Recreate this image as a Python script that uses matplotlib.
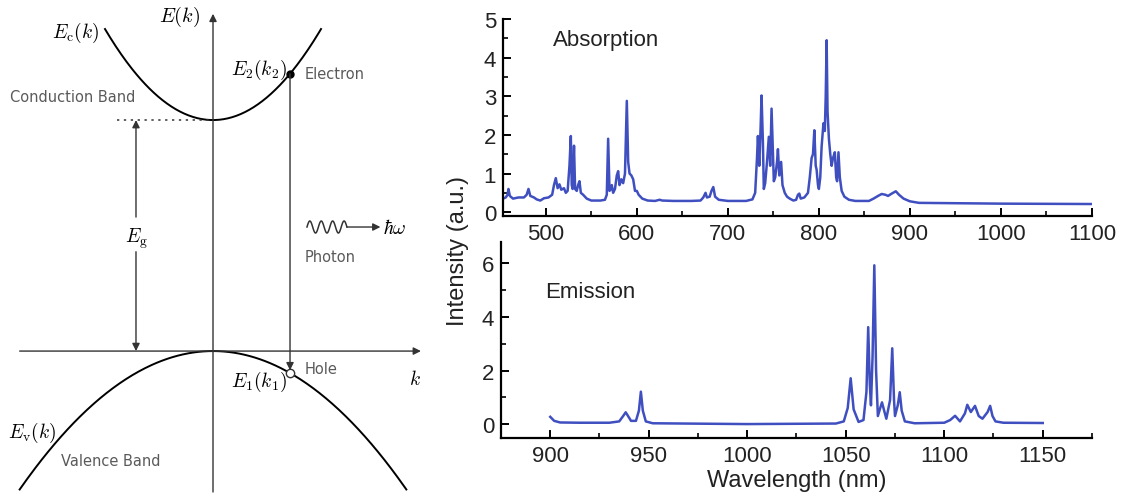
import numpy as np
import matplotlib.pyplot as plt
from matplotlib.ticker import MultipleLocator

plt.rcParams['font.family'] = ['Liberation Sans', 'DejaVu Sans']
plt.rcParams['mathtext.fontset'] = 'cm'

# Absorption spectrum (nm, a.u.)
abs_nm = [453, 456, 458, 459, 460.5, 464, 470, 476, 479, 481, 483, 487, 490, 494, 498,
          503, 507, 509, 511, 513, 515, 517, 520, 522, 524, 526, 527.5, 528.5, 529.5,
          531, 532.2, 534, 535.5, 537, 538.5, 541, 545, 550, 560, 565, 567, 568.5, 570,
          571.5, 572.5, 574, 576, 578, 579.5, 581, 583, 585, 587, 588, 589, 590.5, 592,
          594, 596, 598, 600, 602, 606, 612, 620, 625, 628, 640, 660, 670, 673, 675.5,
          677, 680, 682, 684, 686, 690, 700, 720, 727, 730, 732, 733, 734.5, 736, 737,
          738.5, 739.5, 741, 743, 745, 746.5, 748, 749.5, 750.5, 752, 754, 755, 756.5,
          758.5, 760, 762.5, 765, 768, 772, 775, 777, 778.5, 780, 784, 788, 790, 792,
          793.5, 795, 796.5, 797.5, 799, 800, 801.5, 803, 805, 806.5, 807.5, 808.5,
          809.5, 811, 812.5, 814, 815.5, 817.5, 819, 820, 821.5, 823, 825, 828, 833,
          840, 855, 860, 865, 869, 873, 876, 880, 884.5, 888, 893, 900, 910, 950, 1000,
          1100]
abs_val = [0.35, 0.38, 0.45, 0.60, 0.42, 0.35, 0.38, 0.38, 0.45, 0.60, 0.42, 0.38, 0.33,
           0.30, 0.36, 0.38, 0.45, 0.70, 0.88, 0.62, 0.72, 0.58, 0.62, 0.50, 0.55, 1.20,
           1.97, 0.70, 0.60, 1.72, 0.60, 0.55, 0.70, 0.80, 0.50, 0.45, 0.35, 0.30, 0.30,
           0.32, 0.45, 1.90, 0.55, 0.60, 0.70, 0.50, 0.60, 0.95, 1.06, 0.70, 0.85, 0.75,
           1.00, 2.00, 2.88, 1.30, 1.00, 0.95, 0.85, 0.55, 0.55, 0.45, 0.35, 0.30, 0.29,
           0.32, 0.30, 0.29, 0.29, 0.30, 0.38, 0.50, 0.38, 0.40, 0.55, 0.65, 0.40, 0.32,
           0.29, 0.29, 0.33, 0.50, 1.40, 1.97, 1.20, 2.20, 3.02, 1.80, 0.60, 0.75, 1.30,
           1.95, 1.20, 2.68, 1.50, 0.80, 0.90, 1.30, 1.63, 0.95, 1.30, 0.70, 0.50, 0.40,
           0.35, 0.30, 0.32, 0.45, 0.48, 0.35, 0.38, 0.50, 0.90, 1.40, 1.50, 2.12, 1.20,
           1.10, 0.70, 0.60, 0.90, 1.70, 2.30, 2.10, 3.00, 4.45, 2.60, 1.90, 1.50, 1.20,
           1.40, 1.55, 0.90, 0.80, 1.55, 0.90, 0.55, 0.40, 0.32, 0.29, 0.29, 0.35, 0.42,
           0.47, 0.45, 0.42, 0.48, 0.54, 0.45, 0.35, 0.28, 0.24, 0.23, 0.22, 0.21]

# Emission spectrum (nm, a.u.)
em_nm = [900, 902, 905, 915, 930, 935, 937, 938.3, 939.5, 941, 943.5, 945, 946, 947, 948.5,
         952, 1000, 1045, 1049, 1051, 1052.5, 1054, 1056.5, 1059, 1060.5, 1061.4, 1062.2,
         1062.8, 1063.6, 1064.5, 1065.4, 1066.3, 1067.5, 1068.4, 1069.5, 1070.6, 1072.5,
         1073.6, 1074.5, 1075, 1076.4, 1077.4, 1078.4, 1080, 1085, 1100, 1103, 1105.5,
         1108, 1110.5, 1111.7, 1113.5, 1115.6, 1117.5, 1119.4, 1122, 1123.3, 1124.5, 1126,
         1130, 1150]
em_val = [0.27, 0.12, 0.06, 0.05, 0.05, 0.10, 0.30, 0.44, 0.30, 0.12, 0.12, 0.50, 1.21,
          0.50, 0.10, 0.03, 0.00, 0.02, 0.10, 0.60, 1.71, 0.55, 0.08, 0.15, 1.20, 3.62,
          1.50, 0.70, 2.50, 5.93, 2.00, 0.30, 0.60, 0.81, 0.50, 0.20, 0.90, 2.83, 0.90,
          0.30, 0.70, 1.19, 0.50, 0.10, 0.03, 0.05, 0.15, 0.31, 0.10, 0.40, 0.72, 0.45,
          0.68, 0.30, 0.20, 0.45, 0.68, 0.30, 0.10, 0.05, 0.04]

# band diagram parameters (energy in units of the gap, k in arbitrary units)
Eg = 1.0
mc = 0.394      # conduction band curvature
mv = 0.187      # valence band curvature
k_c = 1.0       # conduction band drawn over |k| <= k_c
k_v = 1.79      # valence band drawn over |k| <= k_v
k_tr = 0.713    # k of the vertical transition

line_col = '#3f4fc0'
gray = '#5a5a5a'
mfs = 14

fig = plt.figure(figsize=(11.24, 5.02), dpi=100)

# ---- band diagram ----
axd = fig.add_axes([0, 0, 430 / 1124, 1])
axd.set_xlim(-1.972, 2.009)
axd.set_ylim(-0.649, 1.524)
axd.axis('off')

kc = np.linspace(-k_c, k_c, 200)
kv = np.linspace(-k_v, k_v, 300)
axd.plot(kc, Eg + mc * kc ** 2, color='k', lw=1.4)
axd.plot(kv, -mv * kv ** 2, color='k', lw=1.4)

arr = dict(arrowstyle='-|>', color='#333333', lw=1.0, mutation_scale=11, shrinkA=0, shrinkB=0)
axd.annotate('', xy=(0, 1.46), xytext=(0, -0.61), arrowprops=arr)
axd.annotate('', xy=(1.925, 0), xytext=(-1.79, 0), arrowprops=arr)

# gap
axd.plot([-0.89, 0], [Eg, Eg], color='#333333', lw=1.1, ls=(0, (1.5, 3)))
axd.annotate('', xy=(-0.713, Eg), xytext=(-0.713, 0.58), arrowprops=arr)
axd.annotate('', xy=(-0.713, 0), xytext=(-0.713, 0.43), arrowprops=arr)
axd.text(-0.713, 0.49, r'$E_{\rm g}$', ha='center', va='center', fontsize=mfs)

# transition
E2 = Eg + mc * k_tr ** 2
E1 = -mv * k_tr ** 2
axd.annotate('', xy=(k_tr, E1 + 0.012), xytext=(k_tr, E2), arrowprops=arr)
axd.plot([k_tr], [E2], 'o', color='k', ms=5)
axd.plot([k_tr], [E1], 'o', mfc='white', mec='#333333', ms=6, mew=1)

# photon
kw = np.linspace(0.87, 1.24, 120)
axd.plot(kw, 0.537 + 0.026 * np.sin((kw - 0.87) / 0.37 * 3.5 * 2 * np.pi), color='#333333', lw=1.1)
axd.annotate('', xy=(1.55, 0.537), xytext=(1.24, 0.537), arrowprops=arr)
axd.text(1.575, 0.537, r'$\hbar\omega$', ha='left', va='center', fontsize=mfs)

axd.text(-0.12, 1.45, r'$E(k)$', ha='right', va='center', fontsize=mfs + 0.5)
axd.text(-1.49, 1.38, r'$E_{\rm c}(k)$', ha='left', va='center', fontsize=mfs)
axd.text(0.17, 1.22, r'$E_2(k_2)$', ha='left', va='center', fontsize=mfs)
axd.text(0.17, -0.13, r'$E_1(k_1)$', ha='left', va='center', fontsize=mfs)
axd.text(-1.90, -0.35, r'$E_{\rm v}(k)$', ha='left', va='center', fontsize=mfs)
axd.text(1.81, -0.12, r'$k$', ha='left', va='center', fontsize=mfs)

axd.text(-1.88, 1.10, 'Conduction Band', ha='left', va='center', fontsize=10.5, color=gray,
         family='DejaVu Sans')
axd.text(-1.41, -0.475, 'Valence Band', ha='left', va='center', fontsize=10.5, color=gray,
         family='DejaVu Sans')
axd.text(0.85, 1.20, 'Electron', ha='left', va='center', fontsize=10.5, color=gray,
         family='DejaVu Sans')
axd.text(0.85, 0.41, 'Photon', ha='left', va='center', fontsize=10.5, color=gray,
         family='DejaVu Sans')
axd.text(0.85, -0.075, 'Hole', ha='left', va='center', fontsize=10.5, color=gray,
         family='DejaVu Sans')

# ---- spectra ----
ax1 = fig.add_axes([503 / 1124, 1 - 217 / 502, 589 / 1124, 197 / 502])
ax2 = fig.add_axes([501 / 1124, 1 - 439 / 502, 591 / 1124, 196 / 502])

ax1.plot(abs_nm, abs_val, color=line_col, lw=1.8)
ax1.set_xlim(453, 1100)
ax1.set_ylim(-0.1, 5)
ax1.xaxis.set_major_locator(MultipleLocator(100))
ax1.xaxis.set_minor_locator(MultipleLocator(50))
ax1.yaxis.set_major_locator(MultipleLocator(1))
ax1.yaxis.set_minor_locator(MultipleLocator(0.5))
ax1.text(0.085, 0.87, 'Absorption', transform=ax1.transAxes, fontsize=16, color='#222222')

ax2.plot(em_nm, em_val, color=line_col, lw=1.8)
ax2.set_xlim(875, 1175)
ax2.set_ylim(-0.52, 6.8)
ax2.xaxis.set_major_locator(MultipleLocator(50))
ax2.xaxis.set_minor_locator(MultipleLocator(25))
ax2.yaxis.set_major_locator(MultipleLocator(2))
ax2.yaxis.set_minor_locator(MultipleLocator(1))
ax2.text(0.075, 0.72, 'Emission', transform=ax2.transAxes, fontsize=16, color='#222222')
ax2.set_xlabel('Wavelength (nm)', fontsize=17, color='#222222', labelpad=2)

for ax in (ax1, ax2):
    for s in ('top', 'right'):
        ax.spines[s].set_visible(False)
    for s in ('left', 'bottom'):
        ax.spines[s].set_linewidth(1.6)
    ax.tick_params(which='major', direction='in', length=6, width=1.4, labelsize=16,
                   labelcolor='#222222', pad=5)
    ax.tick_params(which='minor', direction='in', length=3.5, width=1.2)

fig.text(458 / 1124, 0.5, 'Intensity (a.u.)', rotation=90, ha='center', va='center',
         fontsize=17, color='#222222')

fig.savefig('out.png', dpi=100)
